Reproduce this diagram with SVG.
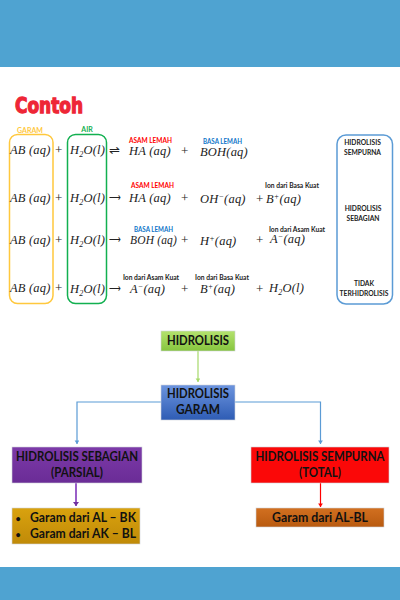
<svg xmlns="http://www.w3.org/2000/svg" width="400" height="600" viewBox="0 0 400 600">
<style>
.m{font-family:"Liberation Serif",serif;font-style:italic;font-size:12.5px;letter-spacing:.2px;fill:#222}
.p{font-family:"Liberation Serif",serif;font-size:13px;fill:#222}
.s{font-size:8px}
.l{font-family:Lato,"Liberation Sans",sans-serif;font-weight:700;font-size:7px;text-anchor:middle}
.k{font-family:Lato,"Liberation Sans",sans-serif;font-weight:700;font-size:6.700px;text-anchor:middle;fill:#222}
.i{font-family:Lato,"Liberation Sans",sans-serif;font-weight:700;font-size:6.700px;text-anchor:middle;fill:#222}
.n{font-family:Lato,"Liberation Sans",sans-serif;font-weight:700;font-size:12.300px;text-anchor:middle;fill:#111}
.t{text-anchor:start}
.d{font-size:9px}
.b{stroke:#cfd3da;stroke-width:.6}
.r{fill:none;stroke-width:1.5}
.c{fill:none}
</style>
<defs>
<linearGradient id="gGreen" x1="0" y1="0" x2="0" y2="1"><stop offset="0" stop-color="#b4e26e"/><stop offset="1" stop-color="#86c53e"/></linearGradient>
<linearGradient id="gBlue" x1="0" y1="0" x2="0" y2="1"><stop offset="0" stop-color="#6c94de"/><stop offset="1" stop-color="#2e5cb4"/></linearGradient>
<linearGradient id="gPurple" x1="0" y1="0" x2="0" y2="1"><stop offset="0" stop-color="#7c3aa8"/><stop offset="1" stop-color="#6a2c96"/></linearGradient>
<linearGradient id="gGold" x1="0" y1="0" x2="0" y2="1"><stop offset="0" stop-color="#d9a20e"/><stop offset="1" stop-color="#c08a08"/></linearGradient>
<linearGradient id="gOrange" x1="0" y1="0" x2="0" y2="1"><stop offset="0" stop-color="#d27020"/><stop offset="1" stop-color="#b85a10"/></linearGradient>
<marker id="aG" markerWidth="5" markerHeight="5" refX="3" refY="2" orient="auto"><path d="M0 0L3 2L0 4z" fill="#a6d96a"/></marker>
<marker id="aB" markerWidth="5" markerHeight="5" refX="3" refY="2" orient="auto"><path d="M0 0L3 2L0 4z" fill="#5b9bd5"/></marker>
<marker id="aP" markerWidth="4" markerHeight="4" refX="2" refY="1.500" orient="auto"><path d="M0 0L2 1.500L0 3z" fill="#7030a0"/></marker>
<marker id="aR" markerWidth="5" markerHeight="5" refX="3" refY="2" orient="auto"><path d="M0 0L3 2L0 4z" fill="#f00"/></marker>
</defs>
<rect width="400" height="600" fill="#fff"/>
<rect id="band-top" width="400" height="67" fill="#4fa3d1"/>
<rect id="band-bottom" y="567" width="400" height="33" fill="#4fa3d1"/>
<text id="title" x="15" y="113" font-family="'DejaVu Sans',sans-serif" font-weight="700" font-size="21" fill="#ee2636" stroke="#ee2636" stroke-width="1.300" textLength="68" lengthAdjust="spacingAndGlyphs">Contoh</text>

<g id="box-garam"><rect class="r" x="9.500" y="134.500" width="43.500" height="169" rx="8" stroke="#ffc83d"/><text class="l" x="30" y="133" fill="#ffc83d">GARAM</text></g>
<g id="box-air"><rect class="r" x="67.500" y="134.500" width="39" height="169" rx="8" stroke="#12b050"/><text class="l" x="87" y="132" fill="#12b050">AIR</text></g>
<g id="box-hasil"><rect class="r" x="337" y="135" width="55.500" height="169" rx="9" stroke="#5b9bd5"/>
<text class="k" x="362.500" y="145">HIDROLISIS</text><text class="k" x="362.500" y="155">SEMPURNA</text>
<text class="k" x="363" y="211">HIDROLISIS</text><text class="k" x="363" y="221">SEBAGIAN</text>
<text class="k" x="364" y="286">TIDAK</text><text class="k" x="364" y="295.500">TERHIDROLISIS</text></g>

<g id="persamaan-1">
<text class="m" x="10" y="154">AB (aq)</text><text class="p" x="55" y="154">+</text>
<text class="m" x="70" y="154">H<tspan class="s" dy="3">2</tspan><tspan dy="-3">O(l)</tspan></text>
<text class="p" x="109" y="155">⇌</text>
<text class="m" x="129" y="155">HA (aq)</text><text class="p" x="181" y="155">+</text>
<text class="m" x="200" y="156">BOH(aq)</text>
<text class="l t" x="129" y="143" fill="#f00" textLength="43" lengthAdjust="spacingAndGlyphs">ASAM LEMAH</text>
<text class="l t" x="203" y="144" fill="#0f75c8" textLength="39" lengthAdjust="spacingAndGlyphs">BASA LEMAH</text>
</g>
<g id="persamaan-2">
<text class="m" x="10" y="202">AB (aq)</text><text class="p" x="55" y="202">+</text>
<text class="m" x="70" y="202">H<tspan class="s" dy="3">2</tspan><tspan dy="-3">O(l)</tspan></text>
<text class="p" x="109" y="202" textLength="12" lengthAdjust="spacingAndGlyphs">⟶</text>
<text class="m" x="129" y="202">HA (aq)</text><text class="p" x="181" y="202">+</text>
<text class="m" x="200" y="203">OH<tspan class="s" dy="-4">−</tspan><tspan dy="4">(aq)</tspan></text>
<text class="p" x="256" y="203">+</text>
<text class="m" x="266" y="203">B<tspan class="s" dy="-4">+</tspan><tspan dy="4">(aq)</tspan></text>
<text class="l t" x="131" y="188" fill="#f00" textLength="43" lengthAdjust="spacingAndGlyphs">ASAM LEMAH</text>
<text class="i" x="292" y="188">Ion dari Basa Kuat</text>
</g>
<g id="persamaan-3">
<text class="m" x="10" y="244">AB (aq)</text><text class="p" x="55" y="244">+</text>
<text class="m" x="70" y="244">H<tspan class="s" dy="3">2</tspan><tspan dy="-3">O(l)</tspan></text>
<text class="p" x="109" y="244" textLength="12" lengthAdjust="spacingAndGlyphs">⟶</text>
<text class="m" x="130" y="244" textLength="47" lengthAdjust="spacingAndGlyphs">BOH (aq)</text><text class="p" x="181" y="244">+</text>
<text class="m" x="200" y="245">H<tspan class="s" dy="-4">+</tspan><tspan dy="4">(aq)</tspan></text>
<text class="p" x="256" y="244">+</text>
<text class="m" x="270" y="243">A<tspan class="s" dy="-4">−</tspan><tspan dy="4">(aq)</tspan></text>
<text class="l t" x="134" y="232" fill="#0f75c8" textLength="39" lengthAdjust="spacingAndGlyphs">BASA LEMAH</text>
<text class="i" x="297" y="232">Ion dari Asam Kuat</text>
</g>
<g id="persamaan-4">
<text class="m" x="10" y="292">AB (aq)</text><text class="p" x="55" y="292">+</text>
<text class="m" x="70" y="293">H<tspan class="s" dy="3">2</tspan><tspan dy="-3">O(l)</tspan></text>
<text class="p" x="109" y="293" textLength="12" lengthAdjust="spacingAndGlyphs">⟶</text>
<text class="m" x="130" y="293">A<tspan class="s" dy="-4">−</tspan><tspan dy="4">(aq)</tspan></text>
<text class="p" x="181" y="293">+</text>
<text class="m" x="200" y="293">B<tspan class="s" dy="-4">+</tspan><tspan dy="4">(aq)</tspan></text>
<text class="p" x="256" y="293">+</text>
<text class="m" x="269" y="292">H<tspan class="s" dy="3">2</tspan><tspan dy="-3">O(l)</tspan></text>
<text class="i" x="151" y="280">Ion dari Asam Kuat</text>
<text class="i" x="222" y="280">Ion dari Basa Kuat</text>
</g>

<g id="connectors">
<path class="c" d="M198 350V382" stroke="#a6d96a" stroke-width="1.200" marker-end="url(#aG)"/>
<path class="c" d="M161 402H77V444" stroke="#5b9bd5" stroke-width="1.200" marker-end="url(#aB)"/>
<path class="c" d="M235 402H320.500V444" stroke="#5b9bd5" stroke-width="1.200" marker-end="url(#aB)"/>
<path class="c" d="M76 483V506" stroke="#9a5fc8" stroke-width="2" marker-end="url(#aP)"/>
<path class="c" d="M320.500 483V507" stroke="#f00" stroke-width="1.200" marker-end="url(#aR)"/>
</g>

<g id="node-hidrolisis"><rect class="b" x="161" y="331" width="74" height="20" fill="url(#gGreen)"/><text class="n t" x="167" y="345" textLength="62" lengthAdjust="spacingAndGlyphs">HIDROLISIS</text></g>
<g id="node-garam"><rect class="b" x="161" y="385" width="74" height="35" fill="url(#gBlue)"/><text class="n t" x="167" y="398" textLength="62" lengthAdjust="spacingAndGlyphs">HIDROLISIS</text><text class="n t" x="176" y="414" textLength="44" lengthAdjust="spacingAndGlyphs">GARAM</text></g>
<g id="node-sebagian"><rect class="b" x="12" y="447" width="130" height="36" fill="url(#gPurple)"/><text class="n t" x="16" y="461" textLength="122" lengthAdjust="spacingAndGlyphs">HIDROLISIS SEBAGIAN</text><text class="n t" x="51" y="477" textLength="52" lengthAdjust="spacingAndGlyphs">(PARSIAL)</text></g>
<g id="node-sempurna"><rect class="b" x="251" y="447" width="138" height="36" fill="#fb0808"/><text class="n t" x="255.500" y="461" textLength="129" lengthAdjust="spacingAndGlyphs">HIDROLISIS SEMPURNA</text><text class="n t" x="299" y="477" textLength="42" lengthAdjust="spacingAndGlyphs">(TOTAL)</text></g>
<g id="node-garam-bk"><rect class="b" x="12" y="508" width="128" height="36" fill="url(#gGold)"/>
<text class="n t d" x="15.500" y="521.500">•</text><text class="n t" x="30" y="522" textLength="106" lengthAdjust="spacingAndGlyphs">Garam dari AL – BK</text>
<text class="n t d" x="15.500" y="537.500">•</text><text class="n t" x="30" y="538" textLength="106" lengthAdjust="spacingAndGlyphs">Garam dari AK – BL</text></g>
<g id="node-garam-albl"><rect class="b" x="256" y="508" width="128" height="19" fill="url(#gOrange)"/><text class="n t" x="272" y="522" textLength="96" lengthAdjust="spacingAndGlyphs">Garam dari AL-BL</text></g>
</svg>
